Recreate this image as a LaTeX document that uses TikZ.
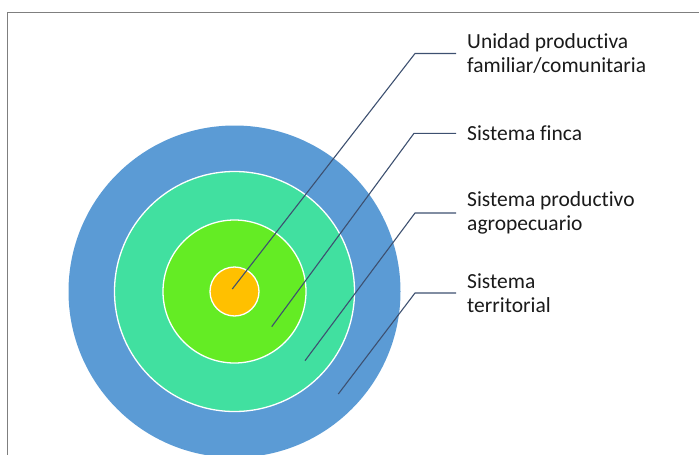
\documentclass[tikz,border=0pt]{standalone}
\usepackage{fontspec}
\setmainfont[Ligatures={NoCommon}]{Carlito}
\definecolor{frame}{HTML}{7F7F7F}
\definecolor{ringblue}{HTML}{5B9BD5}
\definecolor{ringteal}{HTML}{41E0A0}
\definecolor{ringgreen}{HTML}{64EC24}
\definecolor{ringorange}{HTML}{FFC000}
\definecolor{leader}{HTML}{3D5070}
\definecolor{lbltext}{HTML}{1A1A1A}
\begin{document}
\begin{tikzpicture}[x=1pt,y=-1pt,
  ring/.style={circle,inner sep=0pt,minimum size=#1,draw=white,line width=1.3pt},
  lbl/.style={anchor=west,inner xsep=11pt,inner ysep=0pt,align=left,font=\fontsize{21.5}{24.4}\selectfont,text=lbltext},
  leadline/.style={draw=leader,line width=1.1pt}]
\useasboundingbox (0,0) rectangle (699,455);
\draw[frame,line width=1.5pt] (7.7,460) -- (7.7,12.5) -- (705,12.5);
\node[ring=332pt,fill=ringblue,draw=none] (c4) at (234.5,291.5) {};
\node[ring=240pt,fill=ringteal] (c3) at (234.5,291.5) {};
\node[ring=143pt,fill=ringgreen] (c2) at (234.5,291.5) {};
\node[ring=49pt,fill=ringorange] (c1) at (234.5,291.5) {};
% label nodes
\node[lbl] (t1) at (456,53.5) {Unidad productiva\\familiar/comunitaria};
\node[lbl] (t2) at (456,133.3) {Sistema finca};
\node[lbl] (t3) at (456,213) {Sistema productivo\\agropecuario};
\node[lbl] (t4) at (456,293) {Sistema\\territorial};
% leader end points and elbows
\coordinate (p1) at (232.3,289);
\coordinate (p2) at (271.7,326.7);
\coordinate (p3) at (305,360.7);
\coordinate (p4) at (338.3,394);
\coordinate (k1) at (415,53.5);
\coordinate (k2) at (414,133.3);
\coordinate (k3) at (415,213);
\coordinate (k4) at (415,293);
\draw[leadline] (p1) -- (k1) -- (t1.west);
\draw[leadline] (p2) -- (k2) -- (t2.west);
\draw[leadline] (p3) -- (k3) -- (t3.west);
\draw[leadline] (p4) -- (k4) -- (t4.west);
\end{tikzpicture}
\end{document}
